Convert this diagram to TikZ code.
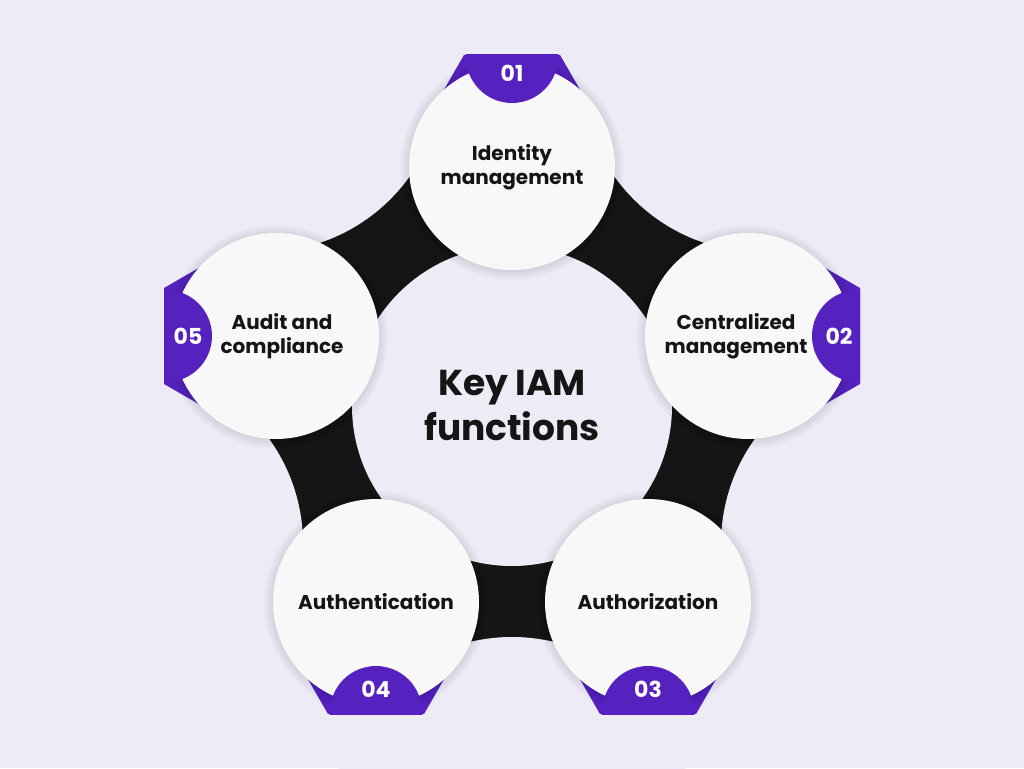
\documentclass[tikz,border=0pt]{standalone}
\usepackage{fontspec}
\setmainfont{Poppins}
\definecolor{pagebg}{HTML}{EDEBF6}
\definecolor{cardwhite}{HTML}{F8F8F8}
\definecolor{ringblack}{HTML}{151515}
\definecolor{tabpurple}{HTML}{5521BF}

\begin{document}
\begin{tikzpicture}[x=1pt, y=-1pt,
    item/.style={circle, fill=cardwhite, minimum size=206pt, inner sep=0pt},
    halo/.style={fill=black, opacity=0.018},
    lbl/.style={align=center, text=ringblack, inner sep=0pt, font=\fontsize{20}{24}\selectfont\bfseries},
    hub/.style={circle, fill=pagebg, minimum size=320pt, align=center, text=ringblack,
      font=\fontsize{36}{45}\selectfont\bfseries},
    num/.style={text=white, inner sep=0pt, font=\fontsize{22}{22}\selectfont\bfseries},
    tab/.style={fill=tabpurple}
  ]
  \useasboundingbox (0,0) rectangle (1024,768);
  \fill[pagebg] (0,0) rectangle (1024,768);

  % circle centres and the outer cut-outs between them
  \coordinate (c1) at (512,167);
  \coordinate (c2) at (748,336);
  \coordinate (c3) at (648,602);
  \coordinate (c4) at (376,602);
  \coordinate (c5) at (276,336);
  \coordinate (o12) at (761,72);
  \coordinate (o23) at (901,544);
  \coordinate (o34) at (512,817);
  \coordinate (o45) at (123,544);
  \coordinate (o51) at (263,72);

  % black ring
  \fill[ringblack] (c1) -- (o12) -- (c2) -- (o23) -- (c3) -- (o34) -- (c4) -- (o45) -- (c5) -- (o51) -- cycle;
  \foreach \o in {o12,o23,o34,o45,o51}
    \fill[pagebg] (\o) circle[radius=180pt];
  \node[hub] (hub) at (512,406) {Key IAM\\functions};

  % purple tabs behind the circles
  \foreach \c/\a in {c1/90, c2/0, c3/-90, c4/-90, c5/180}
    \fill[tab, shift={(\c)}, rotate=\a] (60,-78) -- (112,-48) -- (112,48) -- (60,78) -- cycle;

  % soft shadow under the circles
  \foreach \c in {c1,c2,c3,c4,c5}
    \foreach \r in {104,106,108,110,112}
      \fill[halo] ([yshift=-1pt]\c) circle[radius=\r pt];

  \node[item] (ident) at (c1) {};
  \node[item] (central) at (c2) {};
  \node[item] (authz) at (c3) {};
  \node[item] (authn) at (c4) {};
  \node[item] (audit) at (c5) {};

  \foreach \c/\a in {c1/90, c2/0, c3/-90, c4/-90, c5/180} {
    \begin{scope}[shift={(\c)}, rotate=\a]
      \clip (-150,-150) rectangle (112,150);
      \fill[tab] (110,0) circle[radius=46pt];
    \end{scope}
  }

  % labels
  \node[lbl] (identtxt) at (ident.center) {Identity\\management};
  \node[lbl] (centraltxt) at ([xshift=-12pt]central.center) {Centralized\\management};
  \node[lbl] (authztxt) at (authz.center) {Authorization};
  \node[lbl] (authntxt) at (authn.center) {Authentication};
  \node[lbl] (audittxt) at ([xshift=6pt]audit.center) {Audit and\\compliance};

  \node[num] (n1) at (512,73) {01};
  \node[num] (n2) at (839,336) {02};
  \node[num] (n3) at (648,689) {03};
  \node[num] (n4) at (376,689) {04};
  \node[num] (n5) at (188,336) {05};
\end{tikzpicture}
\end{document}
